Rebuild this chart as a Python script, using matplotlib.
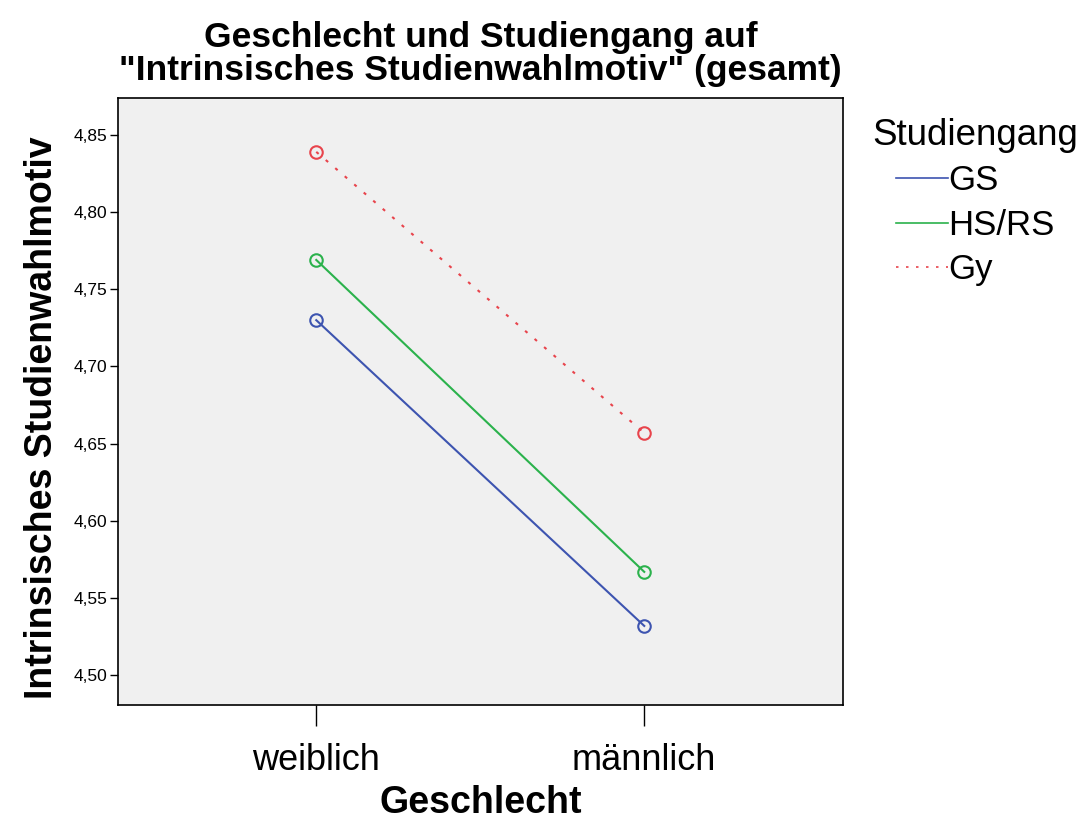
import matplotlib
matplotlib.use("Agg")
import matplotlib.pyplot as plt

plt.rcParams['font.family'] = ['Liberation Sans', 'DejaVu Sans']

# data
geschlecht = ["weiblich", "männlich"]
studiengang = ["GS", "HS/RS", "Gy"]
gs_values = [4.730, 4.532]
hsrs_values = [4.769, 4.567]
gy_values = [4.839, 4.657]
y_ticks = [4.50, 4.55, 4.60, 4.65, 4.70, 4.75, 4.80, 4.85]

series = [gs_values, hsrs_values, gy_values]
colors = ["#3d54b0", "#2bb24c", "#e8444c"]
styles = ["-", "-", (0, (1.5, 4.5))]

fig = plt.figure(figsize=(10.84, 8.22), dpi=100)
ax = fig.add_axes([0.109, 0.142, 0.669, 0.739])
ax.set_facecolor("#f0f0f0")

xs = list(range(len(geschlecht)))
for name, vals, c, ls in zip(studiengang, series, colors, styles):
    ax.plot(xs, vals, color=c, linestyle=ls, linewidth=1.5, label=name,
            marker="o", markersize=9, markerfacecolor="none",
            markeredgecolor=c, markeredgewidth=1.5)

ax.set_xlim(-0.604, 1.607)
ax.set_ylim(4.4806, 4.874)
ax.set_xticks(xs)
ax.set_xticklabels(geschlecht, fontsize=26)
ax.set_yticks(y_ticks)
ax.set_yticklabels([f"{v:.2f}".replace(".", ",") for v in y_ticks], fontsize=12.5)
ax.tick_params(axis="y", length=6, width=1, pad=2)
ax.tick_params(axis="x", length=15, width=1, pad=12.5)
for s in ax.spines.values():
    s.set_linewidth(1.2)

ax.set_xlabel("Geschlecht", fontsize=27, fontweight="bold", labelpad=5)
ax.set_ylabel("Intrinsisches Studienwahlmotiv", fontsize=27, fontweight="bold")
ax.yaxis.set_label_coords(-0.080, 0.474)
ax.set_title('Geschlecht und Studiengang auf\n"Intrinsisches Studienwahlmotiv" (gesamt)',
             fontsize=25.5, fontweight="bold", pad=13, linespacing=1.0)

leg = fig.legend(title="Studiengang", loc="upper left", bbox_to_anchor=(872 / 1084, 1 - 118 / 822),
                 frameon=False, fontsize=25, title_fontsize=26.5, handlelength=1.5,
                 handletextpad=0.0, labelspacing=0.33, borderpad=0, borderaxespad=0)
for h in leg.get_lines():
    h.set_marker("")
    h.set_linewidth(1.2)

fig.savefig("out.png", dpi=100)
